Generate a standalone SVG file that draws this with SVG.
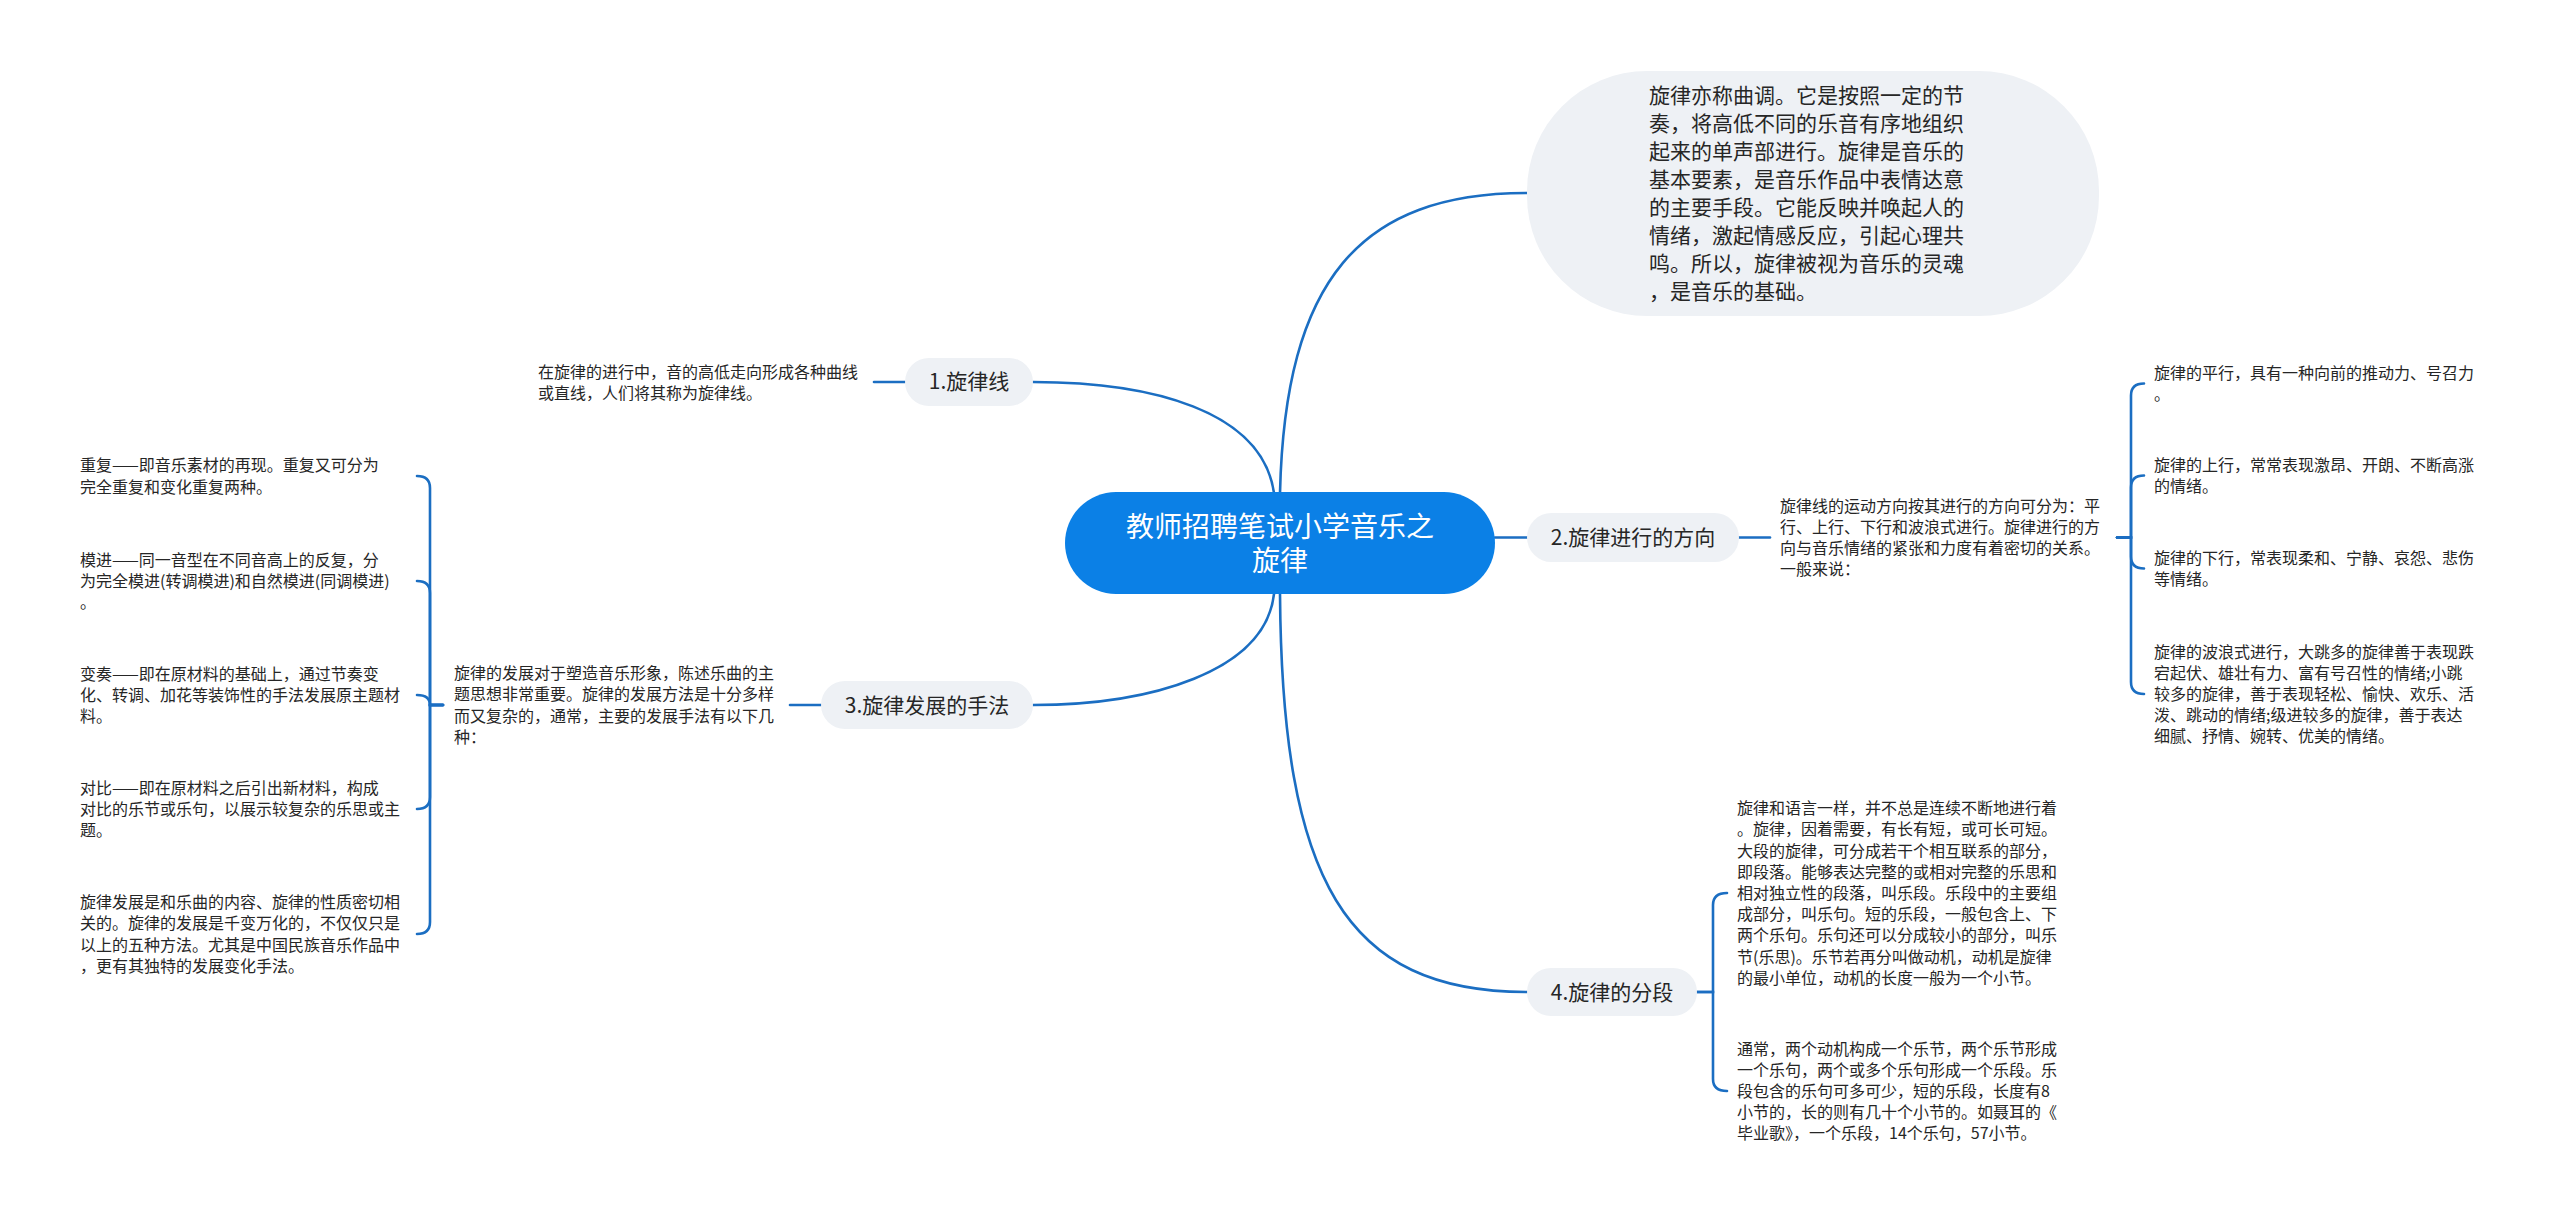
<svg xmlns="http://www.w3.org/2000/svg" width="2560" height="1223" viewBox="0 0 2560 1223">
<style>
.bg{fill:#ffffff}
.conn{fill:none;stroke:#1b6ec2;stroke-width:2.6;stroke-linecap:round}
.root{fill:#0b80e6}
.rootT{font-family:"Noto Sans CJK SC","Microsoft YaHei",sans-serif;font-size:28px;fill:#ffffff;text-anchor:middle}
.br{fill:#eef1f5}
.brT{font-family:"Noto Sans CJK SC","Microsoft YaHei",sans-serif;font-size:21px;fill:#262626;text-anchor:middle}
.bubT{font-family:"Noto Sans CJK SC","Microsoft YaHei",sans-serif;font-size:21px;fill:#262626}
.t{font-family:"Noto Sans CJK SC","Microsoft YaHei",sans-serif;font-size:16px;fill:#262626}
</style>
<rect class="bg" x="0" y="0" width="2560" height="1223"/>

<g id="connectors">
  <path class="conn" d="M1274 493 C1262 410 1150 382 1033 382"/>
  <path class="conn" d="M1280 493 C1285 280 1360 193 1527 193"/>
  <path class="conn" d="M1495 537.5 H1527"/>
  <path class="conn" d="M1274 594 C1265 672 1150 705 1033 705"/>
  <path class="conn" d="M1280 594 C1282 880 1345 992 1527 992"/>
  <path class="conn" d="M905 382 H874"/>
  <path class="conn" d="M821 705 H790"/>
  <path class="conn" d="M443 705 H430 V488 Q430 476 417 476"/>
  <path class="conn" d="M443 705 H430 V593 Q430 581 417 581"/>
  <path class="conn" d="M443 705 H430 Q430 695 417 695"/>
  <path class="conn" d="M443 705 H430 V797 Q430 809 417 809"/>
  <path class="conn" d="M443 705 H430 V922 Q430 934 417 934"/>
  <path class="conn" d="M1739 537.5 H1770"/>
  <path class="conn" d="M2117 537.5 H2131 V395.5 Q2131 383.5 2144 383.5"/>
  <path class="conn" d="M2117 537.5 H2131 V487.5 Q2131 475.5 2144 475.5"/>
  <path class="conn" d="M2117 537.5 H2131 V556.5 Q2131 568.5 2144 568.5"/>
  <path class="conn" d="M2117 537.5 H2131 V682 Q2131 694 2144 694"/>
  <path class="conn" d="M1697 992 H1713 V905 Q1713 893 1727 893"/>
  <path class="conn" d="M1697 992 H1713 V1079 Q1713 1091 1727 1091"/>
</g>

<g id="root">
  <rect class="root" x="1065" y="492" width="430" height="102" rx="51"/>
  <text class="rootT" x="1280" y="537"><tspan x="1280" y="537">教师招聘笔试小学音乐之</tspan><tspan x="1280" y="571">旋律</tspan></text>
</g>

<g id="intro">
  <rect class="br" x="1527" y="71" width="572" height="245" rx="120"/>
  <text class="bubT" x="1649" y="103">旋律亦称曲调。它是按照一定的节</text>
  <text class="bubT" x="1649" y="131">奏，将高低不同的乐音有序地组织</text>
  <text class="bubT" x="1649" y="159">起来的单声部进行。旋律是音乐的</text>
  <text class="bubT" x="1649" y="187">基本要素，是音乐作品中表情达意</text>
  <text class="bubT" x="1649" y="215">的主要手段。它能反映并唤起人的</text>
  <text class="bubT" x="1649" y="243">情绪，激起情感反应，引起心理共</text>
  <text class="bubT" x="1649" y="271">鸣。所以，旋律被视为音乐的灵魂</text>
  <text class="bubT" x="1649" y="299">，是音乐的基础。</text>
</g>

<g id="b1">
  <rect class="br" x="905" y="358" width="128" height="48" rx="24"/>
  <text class="brT" x="969" y="389">1.旋律线</text>
</g>
<g id="b1-note">
  <text class="t" x="538" y="378">在旋律的进行中，音的高低走向形成各种曲线</text>
  <text class="t" x="538" y="399">或直线，人们将其称为旋律线。</text>
</g>

<g id="b2">
  <rect class="br" x="1527" y="513" width="212" height="49" rx="24.5"/>
  <text class="brT" x="1633" y="545">2.旋律进行的方向</text>
</g>
<g id="b2-note">
  <text class="t" x="1780" y="512">旋律线的运动方向按其进行的方向可分为：平</text>
  <text class="t" x="1780" y="533">行、上行、下行和波浪式进行。旋律进行的方</text>
  <text class="t" x="1780" y="554">向与音乐情绪的紧张和力度有着密切的关系。</text>
  <text class="t" x="1780" y="575">一般来说：</text>
</g>
<g id="b2-c1">
  <text class="t" x="2154" y="379">旋律的平行，具有一种向前的推动力、号召力</text>
  <text class="t" x="2154" y="400">。</text>
</g>
<g id="b2-c2">
  <text class="t" x="2154" y="471">旋律的上行，常常表现激昂、开朗、不断高涨</text>
  <text class="t" x="2154" y="492">的情绪。</text>
</g>
<g id="b2-c3">
  <text class="t" x="2154" y="564">旋律的下行，常表现柔和、宁静、哀怨、悲伤</text>
  <text class="t" x="2154" y="585">等情绪。</text>
</g>
<g id="b2-c4">
  <text class="t" x="2154" y="658">旋律的波浪式进行，大跳多的旋律善于表现跌</text>
  <text class="t" x="2154" y="679">宕起伏、雄壮有力、富有号召性的情绪;小跳</text>
  <text class="t" x="2154" y="700">较多的旋律，善于表现轻松、愉快、欢乐、活</text>
  <text class="t" x="2154" y="721">泼、跳动的情绪;级进较多的旋律，善于表达</text>
  <text class="t" x="2154" y="742">细腻、抒情、婉转、优美的情绪。</text>
</g>

<g id="b3">
  <rect class="br" x="821" y="681" width="212" height="48" rx="24"/>
  <text class="brT" x="927" y="713">3.旋律发展的手法</text>
</g>
<g id="b3-note">
  <text class="t" x="454" y="679">旋律的发展对于塑造音乐形象，陈述乐曲的主</text>
  <text class="t" x="454" y="700">题思想非常重要。旋律的发展方法是十分多样</text>
  <text class="t" x="454" y="722">而又复杂的，通常，主要的发展手法有以下几</text>
  <text class="t" x="454" y="743">种：</text>
</g>
<g id="b3-c1">
  <text class="t" x="80" y="471">重复——即音乐素材的再现。重复又可分为</text>
  <text class="t" x="80" y="493">完全重复和变化重复两种。</text>
</g>
<g id="b3-c2">
  <text class="t" x="80" y="566">模进——同一音型在不同音高上的反复，分</text>
  <text class="t" x="80" y="587">为完全模进(转调模进)和自然模进(同调模进)</text>
  <text class="t" x="80" y="608">。</text>
</g>
<g id="b3-c3">
  <text class="t" x="80" y="680">变奏——即在原材料的基础上，通过节奏变</text>
  <text class="t" x="80" y="701">化、转调、加花等装饰性的手法发展原主题材</text>
  <text class="t" x="80" y="722">料。</text>
</g>
<g id="b3-c4">
  <text class="t" x="80" y="794">对比——即在原材料之后引出新材料，构成</text>
  <text class="t" x="80" y="815">对比的乐节或乐句，以展示较复杂的乐思或主</text>
  <text class="t" x="80" y="836">题。</text>
</g>
<g id="b3-c5">
  <text class="t" x="80" y="908">旋律发展是和乐曲的内容、旋律的性质密切相</text>
  <text class="t" x="80" y="929">关的。旋律的发展是千变万化的，不仅仅只是</text>
  <text class="t" x="80" y="951">以上的五种方法。尤其是中国民族音乐作品中</text>
  <text class="t" x="80" y="972">，更有其独特的发展变化手法。</text>
</g>

<g id="b4">
  <rect class="br" x="1527" y="968" width="170" height="48" rx="24"/>
  <text class="brT" x="1612" y="1000">4.旋律的分段</text>
</g>
<g id="b4-c1">
  <text class="t" x="1737" y="814">旋律和语言一样，并不总是连续不断地进行着</text>
  <text class="t" x="1737" y="835">。旋律，因着需要，有长有短，或可长可短。</text>
  <text class="t" x="1737" y="857">大段的旋律，可分成若干个相互联系的部分，</text>
  <text class="t" x="1737" y="878">即段落。能够表达完整的或相对完整的乐思和</text>
  <text class="t" x="1737" y="899">相对独立性的段落，叫乐段。乐段中的主要组</text>
  <text class="t" x="1737" y="920">成部分，叫乐句。短的乐段，一般包含上、下</text>
  <text class="t" x="1737" y="941">两个乐句。乐句还可以分成较小的部分，叫乐</text>
  <text class="t" x="1737" y="963">节(乐思)。乐节若再分叫做动机，动机是旋律</text>
  <text class="t" x="1737" y="984">的最小单位，动机的长度一般为一个小节。</text>
</g>
<g id="b4-c2">
  <text class="t" x="1737" y="1055">通常，两个动机构成一个乐节，两个乐节形成</text>
  <text class="t" x="1737" y="1076">一个乐句，两个或多个乐句形成一个乐段。乐</text>
  <text class="t" x="1737" y="1097">段包含的乐句可多可少，短的乐段，长度有8</text>
  <text class="t" x="1737" y="1118">小节的，长的则有几十个小节的。如聂耳的《</text>
  <text class="t" x="1737" y="1139">毕业歌》，一个乐段，14个乐句，57小节。</text>
</g>
</svg>
